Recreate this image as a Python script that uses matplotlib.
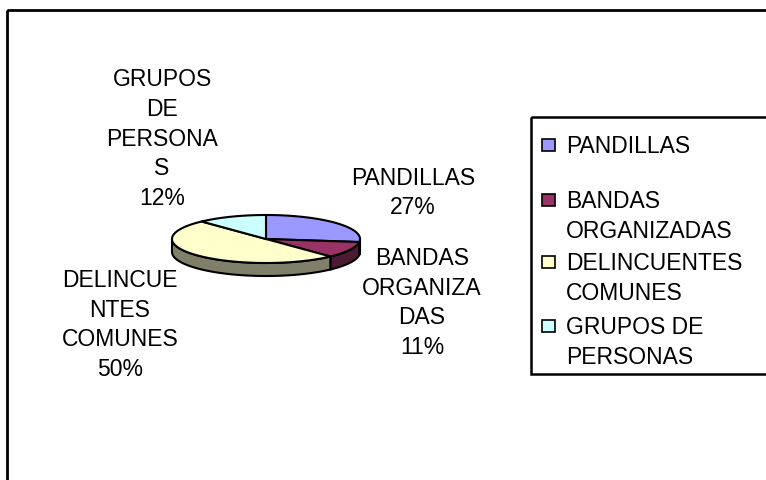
import numpy as np
import matplotlib
matplotlib.use("Agg")
import matplotlib.pyplot as plt
from matplotlib.patches import Polygon, Rectangle

# ---- data ----
categories = ["PANDILLAS", "BANDAS ORGANIZADAS", "DELINCUENTES COMUNES", "GRUPOS DE PERSONAS"]
values = [27, 11, 50, 12]
slice_labels = ["PANDILLAS\n27%", "BANDAS\nORGANIZA\nDAS\n11%",
                "DELINCUE\nNTES\nCOMUNES\n50%", "GRUPOS\nDE\nPERSONA\nS\n12%"]
legend_labels = ["PANDILLAS", "BANDAS\nORGANIZADAS", "DELINCUENTES\nCOMUNES", "GRUPOS DE\nPERSONAS"]
top_colors = ["#9999FF", "#993366", "#FFFFCC", "#CCFFFF"]
side_colors = ["#4D4D80", "#4D1A33", "#80806A", "#668080"]

# ---- layout ----
W, H = 766, 480
fig = plt.figure(figsize=(W / 100, H / 100), dpi=100)
ax = fig.add_axes([0, 0, 1, 1])
ax.set_xlim(0, W)
ax.set_ylim(H, 0)
ax.axis("off")

FONT = "Liberation Sans"
FS = 16.5
LS = 1.38

# outer chart frame (extends beyond the image on right/bottom)
ax.add_patch(Rectangle((7, 10), 900, 600, fill=False, lw=2, ec="black", zorder=1))

cx, cy, rx, ry, depth = 266, 239, 94, 24, 13

def ell(theta_deg, dz=0.0):
    t = np.radians(theta_deg)
    return cx + rx * np.cos(t), cy - ry * np.sin(t) + dz

fracs = np.array(values, dtype=float) / np.sum(values)
start = 90.0
angles = []
for f in fracs:
    a1 = start
    a2 = start - 360 * f
    angles.append((a1, a2))
    start = a2

# side walls (front half only)
for (a1, a2), sc in zip(angles, side_colors):
    for k in (-1, 0, 1):
        lo, hi = -180 + 360 * k, 0 + 360 * k
        s, e = max(a2, lo), min(a1, hi)
        if e - s > 0.01:
            th = np.linspace(s, e, 80)
            top = [ell(t) for t in th]
            bot = [ell(t, depth) for t in th[::-1]]
            ax.add_patch(Polygon(top + bot, closed=True, fc=sc, ec="black", lw=1.5, zorder=2))

# top faces
for (a1, a2), tc in zip(angles, top_colors):
    th = np.linspace(a1, a2, 120)
    pts = [(cx, cy)] + [ell(t) for t in th]
    ax.add_patch(Polygon(pts, closed=True, fc=tc, ec="black", lw=1.5, zorder=3))

# slice labels
label_pos = [(413, 193), (422, 303), (120, 325), (162, 139)]
for lab, (x, y) in zip(slice_labels, label_pos):
    ax.text(x, y, lab, ha="center", va="center", multialignment="center",
            fontsize=FS, family=FONT, linespacing=LS, zorder=5)

# legend (manual, Excel style)
ax.add_patch(Rectangle((531, 117), 400, 257, fill=False, lw=1.8, ec="black", zorder=4))
legend_y = [145, 200, 262, 326]
for lab, col, y in zip(legend_labels, top_colors, legend_y):
    ax.add_patch(Rectangle((542, y - 6), 13, 12, fc=col, ec="black", lw=1.2, zorder=5))
    ax.text(566, y - 10, lab, ha="left", va="top", fontsize=FS, family=FONT,
            linespacing=LS, zorder=5)

fig.savefig("out.png", dpi=100)
